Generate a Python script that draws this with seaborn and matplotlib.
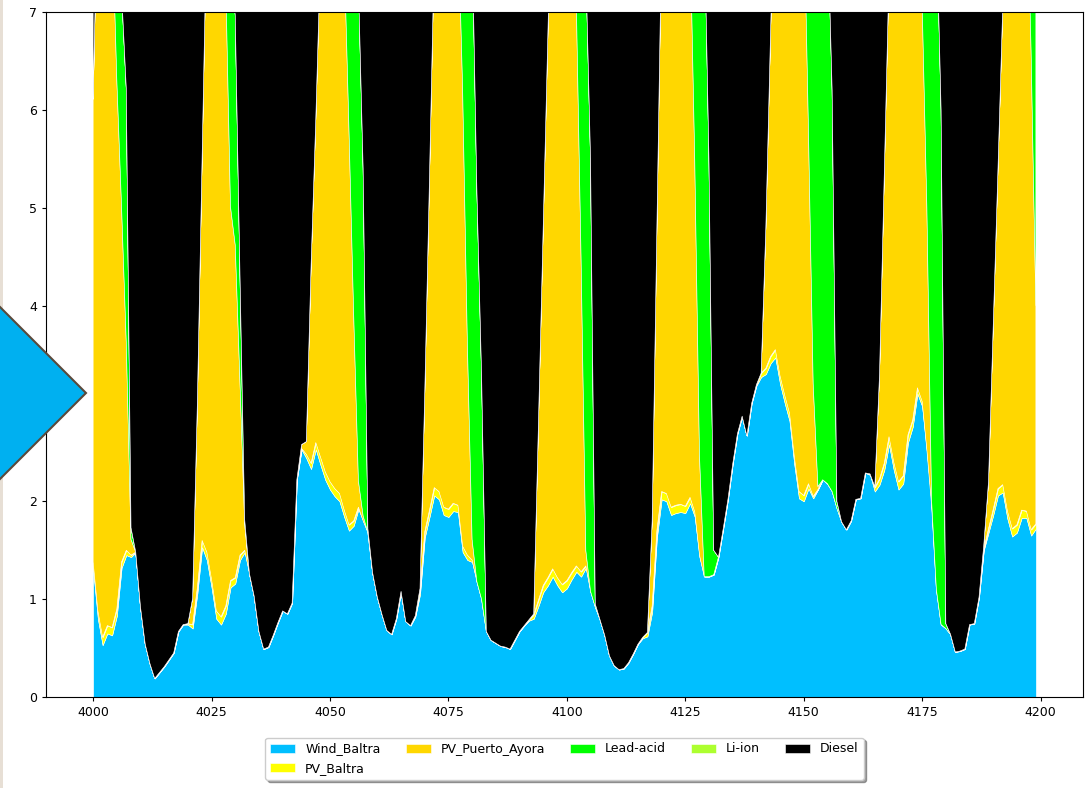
import numpy as np
import matplotlib
matplotlib.use("Agg")
import matplotlib.pyplot as plt
from matplotlib.patches import Polygon, Rectangle
import seaborn as sns

hours = np.arange(4000, 4200)

wind_baltra = [
    1.30, 0.80, 0.53, 0.65, 0.63, 0.83, 1.32, 1.45, 1.43, 1.48,
    0.92, 0.54, 0.34, 0.19, 0.25, 0.31, 0.38, 0.45, 0.67, 0.74,
    0.74, 0.70, 1.06, 1.53, 1.40, 1.12, 0.80, 0.74, 0.85, 1.12,
    1.16, 1.40, 1.48, 1.26, 1.03, 0.67, 0.49, 0.51, 0.63, 0.76,
    0.88, 0.85, 0.96, 2.22, 2.53, 2.44, 2.33, 2.53, 2.37, 2.22,
    2.12, 2.05, 2.00, 1.84, 1.70, 1.75, 1.92, 1.80, 1.68, 1.27,
    1.02, 0.84, 0.68, 0.64, 0.80, 1.08, 0.77, 0.73, 0.82, 1.05,
    1.63, 1.84, 2.06, 2.02, 1.86, 1.84, 1.90, 1.89, 1.48, 1.40,
    1.38, 1.18, 1.00, 0.67, 0.58, 0.55, 0.52, 0.51, 0.49, 0.58,
    0.67, 0.73, 0.78, 0.80, 0.93, 1.07, 1.14, 1.23, 1.14, 1.07,
    1.11, 1.20, 1.28, 1.23, 1.32, 1.08, 0.92, 0.79, 0.63, 0.42,
    0.32, 0.28, 0.29, 0.35, 0.44, 0.54, 0.60, 0.62, 0.87, 1.63,
    2.02, 2.00, 1.86, 1.88, 1.89, 1.88, 1.98, 1.84, 1.43, 1.23,
    1.23, 1.25, 1.43, 1.72, 2.02, 2.38, 2.69, 2.87, 2.67, 3.00,
    3.18, 3.27, 3.30, 3.41, 3.47, 3.20, 3.00, 2.82, 2.38, 2.03,
    2.00, 2.13, 2.03, 2.12, 2.22, 2.18, 2.10, 1.93, 1.79, 1.71,
    1.80, 2.02, 2.03, 2.29, 2.27, 2.10, 2.17, 2.32, 2.58, 2.32,
    2.12, 2.18, 2.60, 2.76, 3.10, 2.97, 2.50, 1.95, 1.10, 0.74,
    0.70, 0.64, 0.46, 0.47, 0.49, 0.74, 0.75, 1.02, 1.50, 1.68,
    1.86, 2.06, 2.09, 1.82, 1.64, 1.68, 1.83, 1.83, 1.65, 1.72,
]

pv_baltra = [
    0.08, 0.08, 0.08, 0.08, 0.08, 0.07, 0.06, 0.05, 0.02, 0.00,
    0.00, 0.00, 0.00, 0.00, 0.00, 0.00, 0.00, 0.00, 0.00, 0.00,
    0.01, 0.04, 0.06, 0.07, 0.08, 0.08, 0.08, 0.08, 0.08, 0.07,
    0.06, 0.05, 0.02, 0.00, 0.00, 0.00, 0.00, 0.00, 0.00, 0.00,
    0.00, 0.00, 0.00, 0.00, 0.01, 0.04, 0.06, 0.07, 0.08, 0.08,
    0.08, 0.08, 0.08, 0.07, 0.06, 0.05, 0.02, 0.00, 0.00, 0.00,
    0.00, 0.00, 0.00, 0.00, 0.00, 0.00, 0.00, 0.00, 0.01, 0.04,
    0.06, 0.07, 0.08, 0.08, 0.08, 0.08, 0.08, 0.07, 0.06, 0.05,
    0.02, 0.00, 0.00, 0.00, 0.00, 0.00, 0.00, 0.00, 0.00, 0.00,
    0.00, 0.00, 0.01, 0.04, 0.06, 0.07, 0.08, 0.08, 0.08, 0.08,
    0.08, 0.07, 0.06, 0.05, 0.02, 0.00, 0.00, 0.00, 0.00, 0.00,
    0.00, 0.00, 0.00, 0.00, 0.00, 0.00, 0.01, 0.04, 0.06, 0.07,
    0.08, 0.08, 0.08, 0.08, 0.08, 0.07, 0.06, 0.05, 0.02, 0.00,
    0.00, 0.00, 0.00, 0.00, 0.00, 0.00, 0.00, 0.00, 0.00, 0.00,
    0.01, 0.04, 0.06, 0.07, 0.08, 0.08, 0.08, 0.08, 0.08, 0.07,
    0.06, 0.05, 0.02, 0.00, 0.00, 0.00, 0.00, 0.00, 0.00, 0.00,
    0.00, 0.00, 0.00, 0.00, 0.01, 0.04, 0.06, 0.07, 0.08, 0.08,
    0.08, 0.08, 0.08, 0.07, 0.06, 0.05, 0.02, 0.00, 0.00, 0.00,
    0.00, 0.00, 0.00, 0.00, 0.00, 0.00, 0.00, 0.00, 0.01, 0.04,
    0.06, 0.07, 0.08, 0.08, 0.08, 0.08, 0.08, 0.07, 0.06, 0.05,
]

pv_puerto_ayora = [
    4.73, 7.50, 7.50, 7.50, 7.30, 5.41, 3.64, 2.12, 0.16, 0.00,
    0.00, 0.00, 0.00, 0.00, 0.00, 0.00, 0.00, 0.00, 0.00, 0.00,
    0.00, 0.27, 1.89, 3.91, 6.53, 7.50, 7.50, 7.50, 6.38, 3.82,
    3.40, 1.77, 0.26, 0.00, 0.00, 0.00, 0.00, 0.00, 0.00, 0.00,
    0.00, 0.00, 0.00, 0.00, 0.04, 0.13, 2.02, 3.31, 5.16, 7.50,
    7.50, 7.50, 7.50, 5.70, 4.06, 2.12, 0.27, 0.05, 0.00, 0.00,
    0.00, 0.00, 0.00, 0.00, 0.00, 0.00, 0.00, 0.00, 0.00, 0.02,
    1.42, 3.40, 5.47, 7.50, 7.50, 7.50, 7.50, 6.05, 4.68, 2.17,
    0.21, 0.00, 0.00, 0.00, 0.00, 0.00, 0.00, 0.00, 0.00, 0.00,
    0.00, 0.00, 0.00, 0.01, 1.81, 3.66, 5.58, 7.50, 7.50, 7.50,
    7.50, 7.03, 5.76, 3.22, 0.16, 0.00, 0.00, 0.00, 0.00, 0.00,
    0.00, 0.00, 0.00, 0.00, 0.00, 0.00, 0.00, 0.00, 0.87, 3.10,
    5.70, 7.50, 7.50, 7.50, 7.50, 7.50, 5.84, 3.60, 1.02, 0.00,
    0.00, 0.00, 0.00, 0.00, 0.00, 0.00, 0.00, 0.00, 0.00, 0.00,
    0.00, 0.00, 1.44, 3.32, 5.25, 7.50, 7.50, 7.50, 7.50, 7.50,
    6.14, 3.62, 1.15, 0.03, 0.00, 0.00, 0.00, 0.00, 0.00, 0.00,
    0.00, 0.00, 0.00, 0.00, 0.00, 0.01, 1.07, 2.96, 4.74, 7.50,
    7.50, 7.50, 7.50, 7.50, 5.34, 4.08, 2.48, 0.05, 0.00, 0.00,
    0.00, 0.00, 0.00, 0.00, 0.00, 0.00, 0.00, 0.00, 0.04, 0.48,
    1.88, 3.27, 4.88, 7.50, 7.50, 7.50, 7.50, 6.70, 4.89, 2.23,
]

lead_acid = [
    0.00, 0.00, 0.00, 0.00, 0.00, 2.20, 2.20, 2.60, 0.12, 0.00,
    0.00, 0.00, 0.00, 0.00, 0.00, 0.00, 0.00, 0.00, 0.00, 0.00,
    0.00, 0.00, 0.00, 0.00, 0.00, 0.00, 0.00, 0.00, 0.00, 2.50,
    2.35, 1.10, 0.05, 0.00, 0.00, 0.00, 0.00, 0.00, 0.00, 0.00,
    0.00, 0.00, 0.00, 0.00, 0.00, 0.00, 0.00, 0.00, 0.00, 0.00,
    0.00, 0.00, 0.00, 0.00, 1.50, 3.50, 5.10, 3.55, 0.04, 0.00,
    0.00, 0.00, 0.00, 0.00, 0.00, 0.00, 0.00, 0.00, 0.00, 0.00,
    0.00, 0.00, 0.00, 0.00, 0.00, 0.00, 0.00, 0.00, 1.50, 4.00,
    6.20, 4.02, 2.30, 0.00, 0.00, 0.00, 0.00, 0.00, 0.00, 0.00,
    0.00, 0.00, 0.00, 0.00, 0.00, 0.00, 0.00, 0.00, 0.00, 0.00,
    0.00, 0.00, 0.50, 3.00, 6.00, 4.42, 0.03, 0.00, 0.00, 0.00,
    0.00, 0.00, 0.00, 0.00, 0.00, 0.00, 0.00, 0.00, 0.00, 0.00,
    0.00, 0.00, 0.00, 0.00, 0.00, 0.00, 0.00, 2.50, 5.50, 6.77,
    4.27, 0.25, 0.00, 0.00, 0.00, 0.00, 0.00, 0.00, 0.00, 0.00,
    0.00, 0.00, 0.00, 0.00, 0.00, 0.00, 0.00, 0.00, 0.00, 0.00,
    0.00, 2.00, 4.80, 5.85, 5.78, 5.82, 4.10, 0.07, 0.00, 0.00,
    0.00, 0.00, 0.00, 0.00, 0.00, 0.00, 0.00, 0.00, 0.00, 0.00,
    0.00, 0.00, 0.00, 0.00, 0.00, 1.00, 3.10, 6.10, 6.90, 5.26,
    0.05, 0.00, 0.00, 0.00, 0.00, 0.00, 0.00, 0.00, 0.00, 0.00,
    0.00, 0.00, 0.00, 0.00, 0.00, 0.00, 0.00, 0.00, 1.40, 4.00,
]

li_ion = [0.0] * 200

diesel = [
    7.5, 0.0, 0.0, 0.0, 0.0, 0.0, 0.0, 7.5, 7.5, 7.5,
    7.5, 7.5, 7.5, 7.5, 7.5, 7.5, 7.5, 7.5, 7.5, 7.5,
    7.5, 7.5, 7.5, 7.5, 0.0, 0.0, 0.0, 0.0, 0.0, 0.0,
    7.5, 7.5, 7.5, 7.5, 7.5, 7.5, 7.5, 7.5, 7.5, 7.5,
    7.5, 7.5, 7.5, 7.5, 7.5, 7.5, 7.5, 7.5, 0.0, 0.0,
    0.0, 0.0, 0.0, 0.0, 0.0, 0.0, 0.0, 7.5, 7.5, 7.5,
    7.5, 7.5, 7.5, 7.5, 7.5, 7.5, 7.5, 7.5, 7.5, 7.5,
    7.5, 7.5, 0.0, 0.0, 0.0, 0.0, 0.0, 0.0, 0.0, 0.0,
    0.0, 7.5, 7.5, 7.5, 7.5, 7.5, 7.5, 7.5, 7.5, 7.5,
    7.5, 7.5, 7.5, 7.5, 7.5, 7.5, 7.5, 0.0, 0.0, 0.0,
    0.0, 0.0, 0.0, 0.0, 0.0, 7.5, 7.5, 7.5, 7.5, 7.5,
    7.5, 7.5, 7.5, 7.5, 7.5, 7.5, 7.5, 7.5, 7.5, 7.5,
    0.0, 0.0, 0.0, 0.0, 0.0, 0.0, 0.0, 0.0, 0.0, 0.0,
    7.5, 7.5, 7.5, 7.5, 7.5, 7.5, 7.5, 7.5, 7.5, 7.5,
    7.5, 7.5, 7.5, 7.5, 0.0, 0.0, 0.0, 0.0, 0.0, 0.0,
    0.0, 0.0, 0.0, 0.0, 0.0, 0.0, 7.5, 7.5, 7.5, 7.5,
    7.5, 7.5, 7.5, 7.5, 7.5, 7.5, 7.5, 7.5, 0.0, 0.0,
    0.0, 0.0, 0.0, 0.0, 0.0, 0.0, 0.0, 0.0, 0.0, 7.5,
    7.5, 7.5, 7.5, 7.5, 7.5, 7.5, 7.5, 7.5, 7.5, 7.5,
    7.5, 7.5, 0.0, 0.0, 0.0, 0.0, 0.0, 0.0, 0.0, 0.0,
]

labels = ["Wind_Baltra", "PV_Baltra", "PV_Puerto_Ayora", "Lead-acid", "Li-ion", "Diesel"]
colors = ["deepskyblue", "yellow", "gold", "lime", "greenyellow", "black"]

sns.set_style("ticks")
plt.rcParams["font.family"] = ["DejaVu Sans"]
plt.rcParams["font.size"] = 9
plt.rcParams["text.color"] = "black"
plt.rcParams["xtick.color"] = "black"
plt.rcParams["ytick.color"] = "black"
plt.rcParams["axes.edgecolor"] = "black"
plt.rcParams["axes.linewidth"] = 0.8
plt.rcParams["xtick.major.size"] = 3.0
plt.rcParams["ytick.major.size"] = 3.0

W, H = 1089, 788
fig = plt.figure(figsize=(W / 100, H / 100), dpi=100)
fig.patch.set_facecolor("white")
ax = fig.add_axes([46 / W, 1 - 697 / H, (1083 - 46) / W, (697 - 12) / H])

ax.stackplot(hours, wind_baltra, pv_baltra, pv_puerto_ayora, lead_acid,
             li_ion, diesel, labels=labels, colors=colors,
             edgecolor="white", linewidth=0.4)
ax.set_ylim(0, 7)
ax.tick_params(labelsize=9)

ax.legend(loc="upper center", bbox_to_anchor=(0.5, -0.05), fancybox=True,
          shadow=True, ncol=5, fontsize=9)

# screenshot overlay elements at the left edge
fig.add_artist(Rectangle((0, 0), 3 / W, 1, transform=fig.transFigure,
                         facecolor="#e7dfd5", edgecolor="none", zorder=9))
fig.add_artist(Polygon([(86 / W, 1 - 393 / H), (0, 1 - 307 / H),
                        (-86 / W, 1 - 393 / H), (0, 1 - 479 / H)],
                       closed=True, transform=fig.transFigure,
                       facecolor="#00b0f0", edgecolor="#5a4a3c",
                       linewidth=1.5, zorder=10))

fig.savefig("out.png", dpi=100)
